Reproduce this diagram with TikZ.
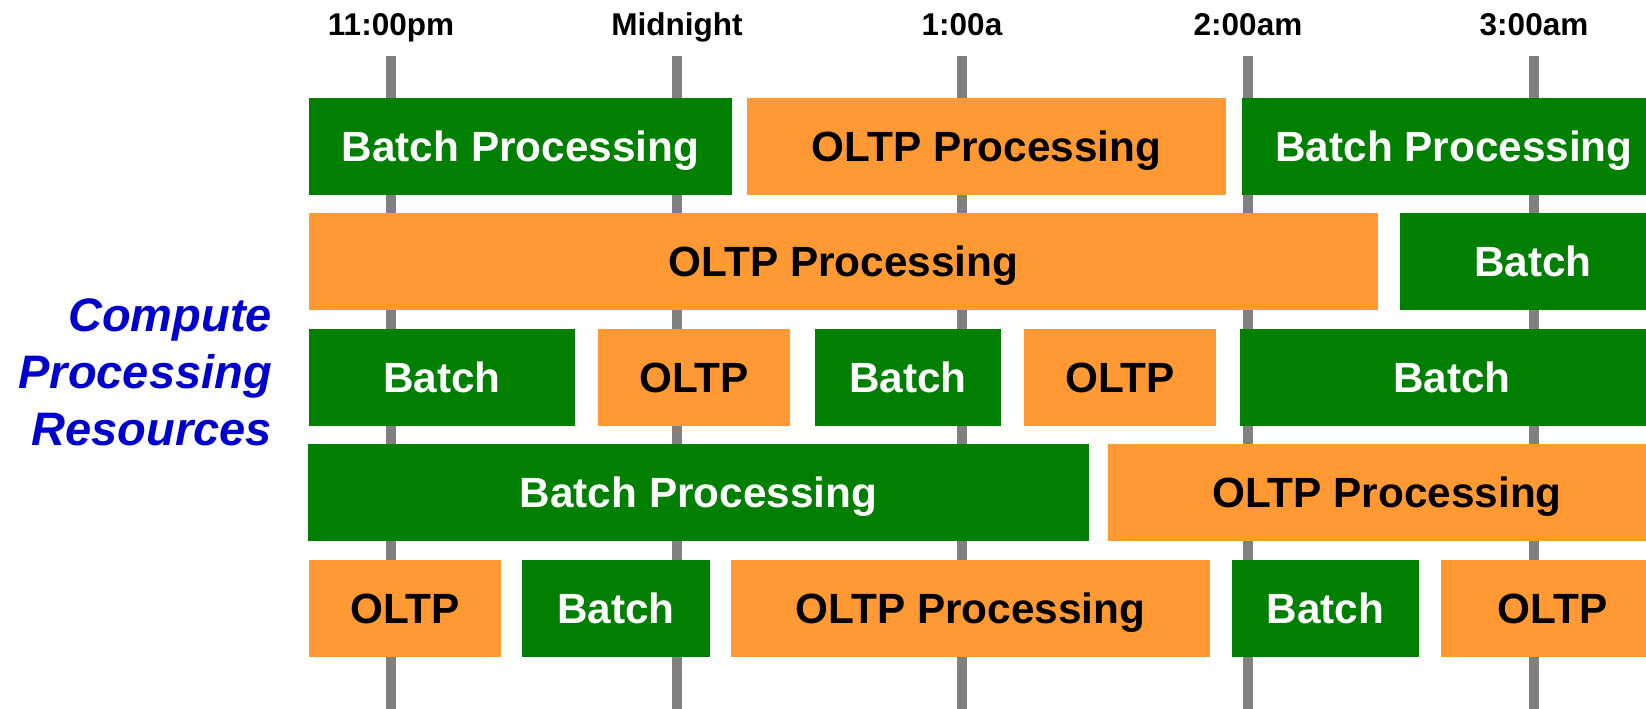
\documentclass[tikz,border=0pt]{standalone}
\usepackage{fontspec}
\setmainfont{Liberation Sans}
\definecolor{bgreen}{HTML}{007F00}
\definecolor{borange}{HTML}{FF9933}
\definecolor{tgray}{HTML}{808080}
\definecolor{lblue}{HTML}{0000CC}
\begin{document}
\begin{tikzpicture}[x=1pt,y=-1pt,
  box/.style={rectangle,inner sep=0pt,minimum height=97pt,text height=30.3pt,text depth=0pt,
    font=\fontsize{42.3}{50}\selectfont\bfseries},
  batch/.style={box,fill=bgreen,text=white},
  oltp/.style={box,fill=borange,text=black},
  tick/.style={draw=tgray,line width=10pt},
  tlabel/.style={inner sep=0pt,text height=22.5pt,text depth=0pt,font=\fontsize{31.5}{36}\selectfont\bfseries}]
\useasboundingbox (0,0) rectangle (1646,709);
\clip (0,0) rectangle (1646,709);
% time axis
\foreach \n/\x/\t in {a/391/11:00pm,b/677/Midnight,c/962/1:00a,d/1248/2:00am,e/1534/3:00am}{
  \node[tlabel] (lab\n) at (\x,24) {\t};
  \coordinate (top\n) at (\x,56);
  \coordinate (bot\n) at (\x,712);
  \draw[tick] (top\n) -- (bot\n);
}
% row 1
\node[batch,minimum width=423pt] (r1a) at (520.5,146) {Batch Processing};
\node[oltp,minimum width=479pt] (r1b) at (986.5,146) {OLTP Processing};
\node[batch,minimum width=424pt] (r1c) at (1454,146) {Batch Processing};
% row 2
\node[oltp,minimum width=1069pt] (r2a) at (843.5,261.5) {OLTP Processing};
\node[batch,minimum width=266pt] (r2b) at (1533,261.5) {Batch};
% row 3
\node[batch,minimum width=266pt] (r3a) at (442,377) {Batch};
\node[oltp,minimum width=192pt] (r3b) at (694,377) {OLTP};
\node[batch,minimum width=186pt] (r3c) at (908,377) {Batch};
\node[oltp,minimum width=192pt] (r3d) at (1120,377) {OLTP};
\node[batch,minimum width=424pt] (r3e) at (1452,377) {Batch};
% row 4
\node[batch,minimum width=781pt] (r4a) at (698.5,492.5) {Batch Processing};
\node[oltp,minimum width=558pt] (r4b) at (1387,492.5) {OLTP Processing};
% row 5
\node[oltp,minimum width=192pt] (r5a) at (405,608) {OLTP};
\node[batch,minimum width=188pt] (r5b) at (616,608) {Batch};
\node[oltp,minimum width=479pt] (r5c) at (970.5,608) {OLTP Processing};
\node[batch,minimum width=187pt] (r5d) at (1325.5,608) {Batch};
\node[oltp,minimum width=223pt] (r5e) at (1552.5,608) {OLTP};
% side label
\node[anchor=east,align=right,inner sep=0pt,text=lblue,
  font=\fontsize{47}{57}\selectfont\bfseries\itshape] (side) at (272,372)
  {Compute\\Processing\\Resources};
\end{tikzpicture}
\end{document}
